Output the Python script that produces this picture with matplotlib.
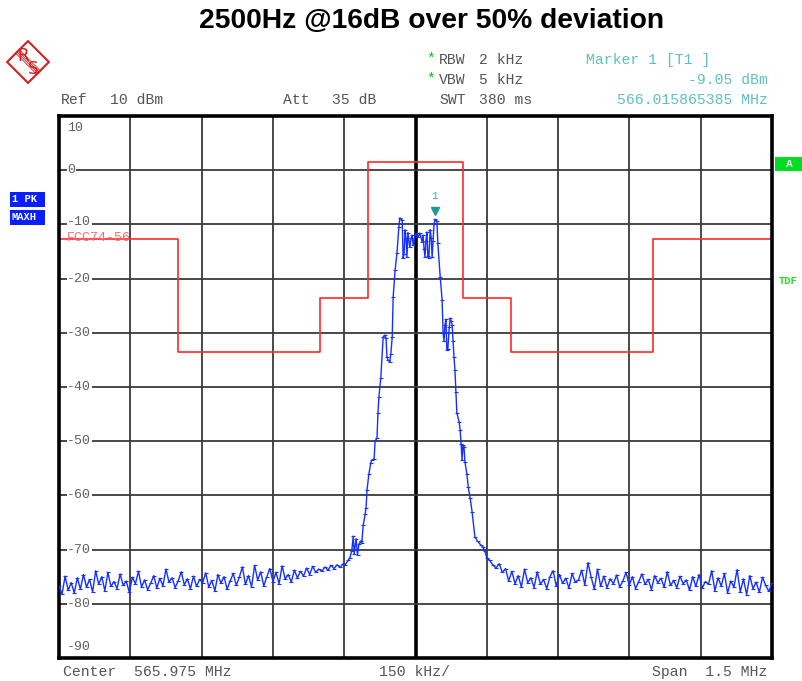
import numpy as np
import matplotlib
matplotlib.use("Agg")
import matplotlib.pyplot as plt
from matplotlib.patches import Polygon, Rectangle

# --- data (frequency offset from center in kHz, level in dBm) ---
left_floor_dbm = [
    -76.8, -78.2, -74.9, -77.5, -76.1, -78.0, -75.2, -77.3, -74.6, -76.9,
    -75.5, -77.8, -73.9, -76.4, -75.0, -77.6, -74.2, -76.8, -75.9, -77.2,
    -74.5, -76.6, -75.8, -77.9, -75.1, -76.3, -74.0, -76.9, -75.6, -77.4,
    -76.2, -74.8, -77.1, -75.3, -76.7, -73.6, -76.0, -75.2, -77.0, -75.8,
    -74.1, -76.5, -75.4, -77.2, -74.9, -76.8, -75.5, -76.1, -74.3, -76.9,
    -75.7, -77.6, -74.6, -76.2, -75.0, -77.3, -75.8, -74.4, -76.6, -75.1,
    -73.2, -76.4, -74.8, -76.9, -72.9, -75.6, -74.1, -76.7, -75.0, -73.5,
    -75.9, -74.2, -76.3, -73.0, -75.4, -74.6, -76.0, -73.8, -75.2, -74.0,
    -74.9, -73.4, -74.6, -73.1, -74.2, -73.6, -74.0, -73.2, -73.8, -72.9,
    -73.5, -72.8, -73.3, -72.6,
]
left_floor_khz = np.linspace(-750, -152, len(left_floor_dbm))

peak_khz = [
    -148, -142, -138, -134, -131, -129, -125, -122, -119, -115, -113, -110,
    -106, -104, -102, -98, -94, -92, -87, -85, -81, -79, -77, -73, -68, -64,
    -62, -60, -58, -54, -52, -49, -47, -43, -39, -35, -33, -28, -26, -24,
    -22, -20, -18, -16, -12, -9, -7, -5, -1, 3, 5, 9, 14, 16, 18, 20, 22,
    24, 26, 28, 31, 33, 35, 37, 39, 41, 45, 47, 52, 56, 58, 60, 62, 64, 66,
    68, 71, 73, 75, 77, 79, 81, 83, 85, 87, 92, 94, 96, 98, 100, 102, 104,
    108, 111, 115, 119, 125, 131, 138, 142, 146, 150,
]
peak_dbm = [
    -72.8, -72.0, -71.5, -70.2, -67.5, -70.8, -68.0, -71.0, -69.0, -68.4, -68.8, -65.5,
    -63.5, -62.3, -59.0, -56.0, -54.0, -53.5, -53.2, -50.0, -49.4, -44.8, -41.8, -38.3, -30.8, -30.4,
    -31.0, -34.5, -35.0, -35.4, -34.0, -30.8, -23.4, -18.5, -15.3, -10.5, -8.8, -9.2, -16.2, -15.5,
    -11.0, -12.5, -16.0, -11.5, -14.2, -12.5, -12.0, -13.8, -12.0, -11.6, -12.4, -11.6, -13.2, -12.0, -14.5, -16.0, -13.0,
    -11.4, -15.8, -16.2, -11.0, -12.5, -16.0, -13.0, -10.0, -9.05, -9.4, -13.5, -19.7, -24.0, -30.0, -31.5, -28.6, -27.5, -33.2,
    -33.0, -29.0, -27.3, -27.8, -28.5, -31.5, -34.5, -36.9, -41.0, -44.8, -46.5, -48.0, -50.5, -53.5, -50.7, -51.0, -53.8,
    -56.0, -58.5, -60.5, -63.0, -67.7, -68.5, -69.2, -69.5, -70.3, -71.5,
]

right_floor_dbm = [
    -72.0, -72.8, -73.4, -72.6, -74.2, -73.5, -75.8, -74.0, -76.3, -74.8,
    -76.9, -73.6, -76.1, -75.2, -77.0, -74.1, -76.4, -75.5, -77.2, -75.0,
    -73.9, -76.7, -74.6, -76.2, -75.3, -77.1, -74.4, -76.0, -75.6, -73.8,
    -76.5, -72.4, -75.1, -77.3, -73.6, -76.8, -74.9, -77.0, -75.4, -76.3,
    -74.7, -76.9, -75.8, -74.2, -76.6, -75.0, -77.2, -75.9, -74.5, -76.4,
    -75.5, -77.4, -74.8, -76.1, -75.3, -76.9, -74.1, -76.6, -75.7, -77.0,
    -74.9, -76.3, -75.6, -77.5, -75.0, -76.8, -74.6, -77.1, -75.9, -76.4,
    -73.9, -77.6, -75.2, -76.7, -74.4, -78.0, -75.8, -76.9, -73.7, -77.8,
    -75.4, -78.3, -74.8, -77.2, -76.0, -77.9, -75.1, -76.6, -77.7, -76.2,
]
right_floor_khz = np.linspace(156, 750, len(right_floor_dbm))

# FCC limit line (step)
limit_khz = [-750, -500, -500, -200, -200, -100, -100, 100, 100, 200, 200, 500, 500, 750]
limit_dbm = [-12.7, -12.7, -33.5, -33.5, -23.6, -23.6, 1.5, 1.5, -23.6, -23.6, -33.5, -33.5, -12.7, -12.7]

marker_khz = 41
marker_dbm = -9.05

freq = np.concatenate([left_floor_khz, peak_khz, right_floor_khz])
level = np.concatenate([left_floor_dbm, peak_dbm, right_floor_dbm])

W, H = 802, 681
fig = plt.figure(figsize=(W / 100, H / 100), dpi=100)
mono = "Liberation Mono"


def px(x, y):
    return x / W, 1 - y / H


ax = fig.add_axes([59 / W, 1 - 658 / H, 713 / W, 542 / H])
ax.set_xlim(-750, 750)
ax.set_ylim(-90, 10)

for xv in np.arange(-600, 751, 150):
    if xv == 0:
        ax.axvline(xv, color="black", lw=2.6, zorder=1)
    elif xv < 750:
        ax.axvline(xv, color="#3a3a3a", lw=1.3, zorder=1)
for yv in range(0, -90, -10):
    ax.axhline(yv, color="#3a3a3a", lw=1.3, zorder=1)

ax.plot(limit_khz, limit_dbm, color="#ff2a2a", lw=1.2, zorder=2)
ax.plot(freq, level, color="#1530ff", lw=1.0, marker="_", ms=3, mew=0.8, zorder=3)
ax.plot([marker_khz], [marker_dbm + 1.6], marker="v", color="#1a9a9a", ms=6, zorder=4)
ax.text(marker_khz, marker_dbm + 4.2, "1", color="#40b0b0", fontsize=8,
        family=mono, ha="center", va="center", zorder=4)

ax.set_xticks([])
ax.set_yticks([])
for s in ax.spines.values():
    s.set_linewidth(2.6)
    s.set_color("black")

# y labels inside the plot
for yv, lab in [(10, "10"), (0, "0"), (-10, "-10"), (-20, "-20"), (-30, "-30"),
                (-40, "-40"), (-50, "-50"), (-60, "-60"), (-70, "-70"),
                (-80, "-80"), (-90, "-90")]:
    yy = yv
    if yv == 10:
        yy = 7.8
    if yv == -90:
        yy = -88.0
    if yv == -10:
        yy = -9.6
    ax.text(-733, yy, lab, color="#606060", fontsize=9.5, family=mono,
            ha="left", va="center", zorder=5,
            bbox=dict(facecolor="white", edgecolor="none", pad=0.4))

ax.text(-733, -12.6, "FCC74-56", color="#ff6a6a", fontsize=9.5, family=mono,
        ha="left", va="center", zorder=6)

# title
fig.text(*px(432, 21), "2500Hz @16dB over 50% deviation", fontsize=20.3,
         fontweight="bold", family="Liberation Sans", ha="center", va="center")

grey = "#555555"
teal = "#5fc0c0"
fs = 10.6


def hdr(x, y, s, **kw):
    fig.text(*px(x, y), s, family=mono, fontsize=fs, va="center", **kw)


hdr(61, 100, "Ref", color=grey)
hdr(110, 100, "10 dBm", color=grey)
hdr(283, 100, "Att", color=grey)
hdr(332, 100, "35 dB", color=grey)
hdr(439, 100, "SWT", color=grey)
hdr(479, 100, "380 ms", color=grey)
hdr(439, 60, "RBW", color=grey)
hdr(479, 60, "2 kHz", color=grey)
hdr(439, 80, "VBW", color=grey)
hdr(479, 80, "5 kHz", color=grey)
hdr(431, 59, "*", color="#00c800", ha="center")
hdr(431, 79, "*", color="#00c800", ha="center")
hdr(586, 60, "Marker 1 [T1 ]", color=teal)
hdr(768, 80, "-9.05 dBm", color=teal, ha="right")
hdr(768, 100, "566.015865385 MHz", color=teal, ha="right")

hdr(63, 672, "Center  565.975 MHz", color=grey)
hdr(414, 672, "150 kHz/", color=grey, ha="center")
hdr(767, 672, "Span  1.5 MHz", color=grey, ha="right")

# side labels
for y0, lab in [(192, "1 PK"), (210, "MAXH")]:
    fig.patches.append(Rectangle(px(10, y0 + 15), 35 / W, 15 / H, transform=fig.transFigure,
                                 facecolor="#0a1eff", edgecolor="none"))
    fig.text(*px(12, y0 + 7.5), lab, color="white", family=mono, fontsize=7.5,
             fontweight="bold", va="center")
fig.patches.append(Rectangle(px(775, 171), 27 / W, 14 / H, transform=fig.transFigure,
                             facecolor="#00dd22", edgecolor="none"))
fig.text(*px(789, 164), "A", color="white", family=mono, fontsize=8, fontweight="bold",
         va="center", ha="center")
fig.text(*px(779, 281), "TDF", color="#22dd22", family=mono, fontsize=7.5, fontweight="bold",
         va="center")

# R&S logo
lax = fig.add_axes([6 / W, 1 - 84 / H, 44 / W, 44 / H])
lax.set_xlim(-1, 1)
lax.set_ylim(-1, 1)
lax.axis("off")
lax.add_patch(Polygon([[0, 0.95], [0.95, 0], [0, -0.95], [-0.95, 0]], closed=True,
                      facecolor="white", edgecolor="#d42020", lw=1.5, zorder=1))
for off in np.linspace(-0.08, 0.08, 4):
    lax.plot([-0.5 + off, 0.5 + off], [0.5 + off, -0.5 + off], color="#d42020", lw=0.6, zorder=2)
lax.text(-0.24, 0.26, "R", color="#d42020", fontsize=12, ha="center", va="center",
         family="DejaVu Sans", zorder=3)
lax.text(0.24, -0.32, "S", color="#d42020", fontsize=12, ha="center", va="center",
         family="DejaVu Sans", zorder=3)

fig.savefig("out.png", dpi=100)
